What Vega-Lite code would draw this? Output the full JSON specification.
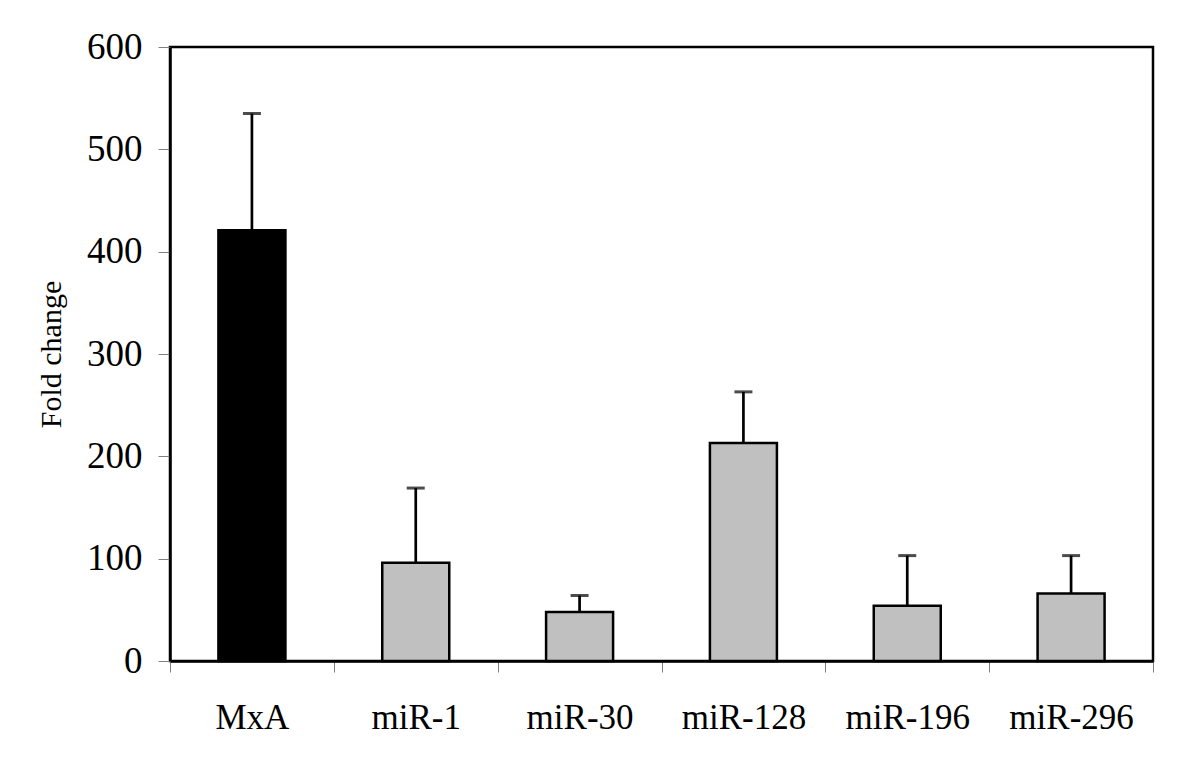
{
  "$schema": "https://vega.github.io/schema/vega-lite/v6.json",
  "width": 983,
  "height": 614,
  "autosize": {"type": "none"},
  "padding": {"left": 170, "top": 47, "right": 47, "bottom": 111},
  "background": "white",
  "config": {
    "view": {"stroke": "black", "strokeWidth": 2.5},
    "font": "Liberation Serif"
  },
  "data": {
    "values": [
      {"target": "MxA", "kind": "MxA", "value": 421, "upper": 535},
      {"target": "miR-1", "kind": "miR", "value": 96, "upper": 169},
      {"target": "miR-30", "kind": "miR", "value": 48, "upper": 64},
      {"target": "miR-128", "kind": "miR", "value": 213, "upper": 263},
      {"target": "miR-196", "kind": "miR", "value": 54, "upper": 103},
      {"target": "miR-296", "kind": "miR", "value": 66, "upper": 103}
    ]
  },
  "encoding": {
    "x": {
      "field": "target",
      "type": "nominal",
      "sort": null,
      "scale": {"paddingInner": 0, "paddingOuter": 0},
      "axis": {
        "title": null,
        "labelAngle": 0,
        "labelFont": "Liberation Serif",
        "labelFontSize": 35,
        "labelColor": "black",
        "labelPadding": 28,
        "tickBand": "extent",
        "tickColor": "#808080",
        "tickSize": 11,
        "domainColor": "black",
        "domainWidth": 2.5
      }
    }
  },
  "layer": [
    {
      "mark": {"type": "rule", "color": "black", "strokeWidth": 2.7},
      "encoding": {
        "y": {"field": "value", "type": "quantitative"},
        "y2": {"field": "upper"}
      }
    },
    {
      "mark": {"type": "tick", "color": "black", "size": 18, "thickness": 3},
      "encoding": {
        "y": {"field": "upper", "type": "quantitative"}
      }
    },
    {
      "mark": {"type": "bar", "size": 67, "stroke": "black", "strokeWidth": 2.5},
      "encoding": {
        "y": {
          "field": "value",
          "type": "quantitative",
          "scale": {"domain": [0, 600], "nice": false, "zero": true},
          "axis": {
            "title": "Fold change",
            "titleFont": "Liberation Serif",
            "titleFontSize": 30,
            "titleFontWeight": "normal",
            "titleColor": "black",
            "titlePadding": 20,
            "values": [0, 100, 200, 300, 400, 500, 600],
            "grid": false,
            "labelFont": "Liberation Serif",
            "labelFontSize": 37,
            "labelColor": "black",
            "labelPadding": 16,
            "tickColor": "#808080",
            "tickSize": 12,
            "domainColor": "black",
            "domainWidth": 2.5
          }
        },
        "fill": {
          "field": "kind",
          "type": "nominal",
          "scale": {"domain": ["MxA", "miR"], "range": ["black", "#c0c0c0"]},
          "legend": null
        }
      }
    }
  ]
}
